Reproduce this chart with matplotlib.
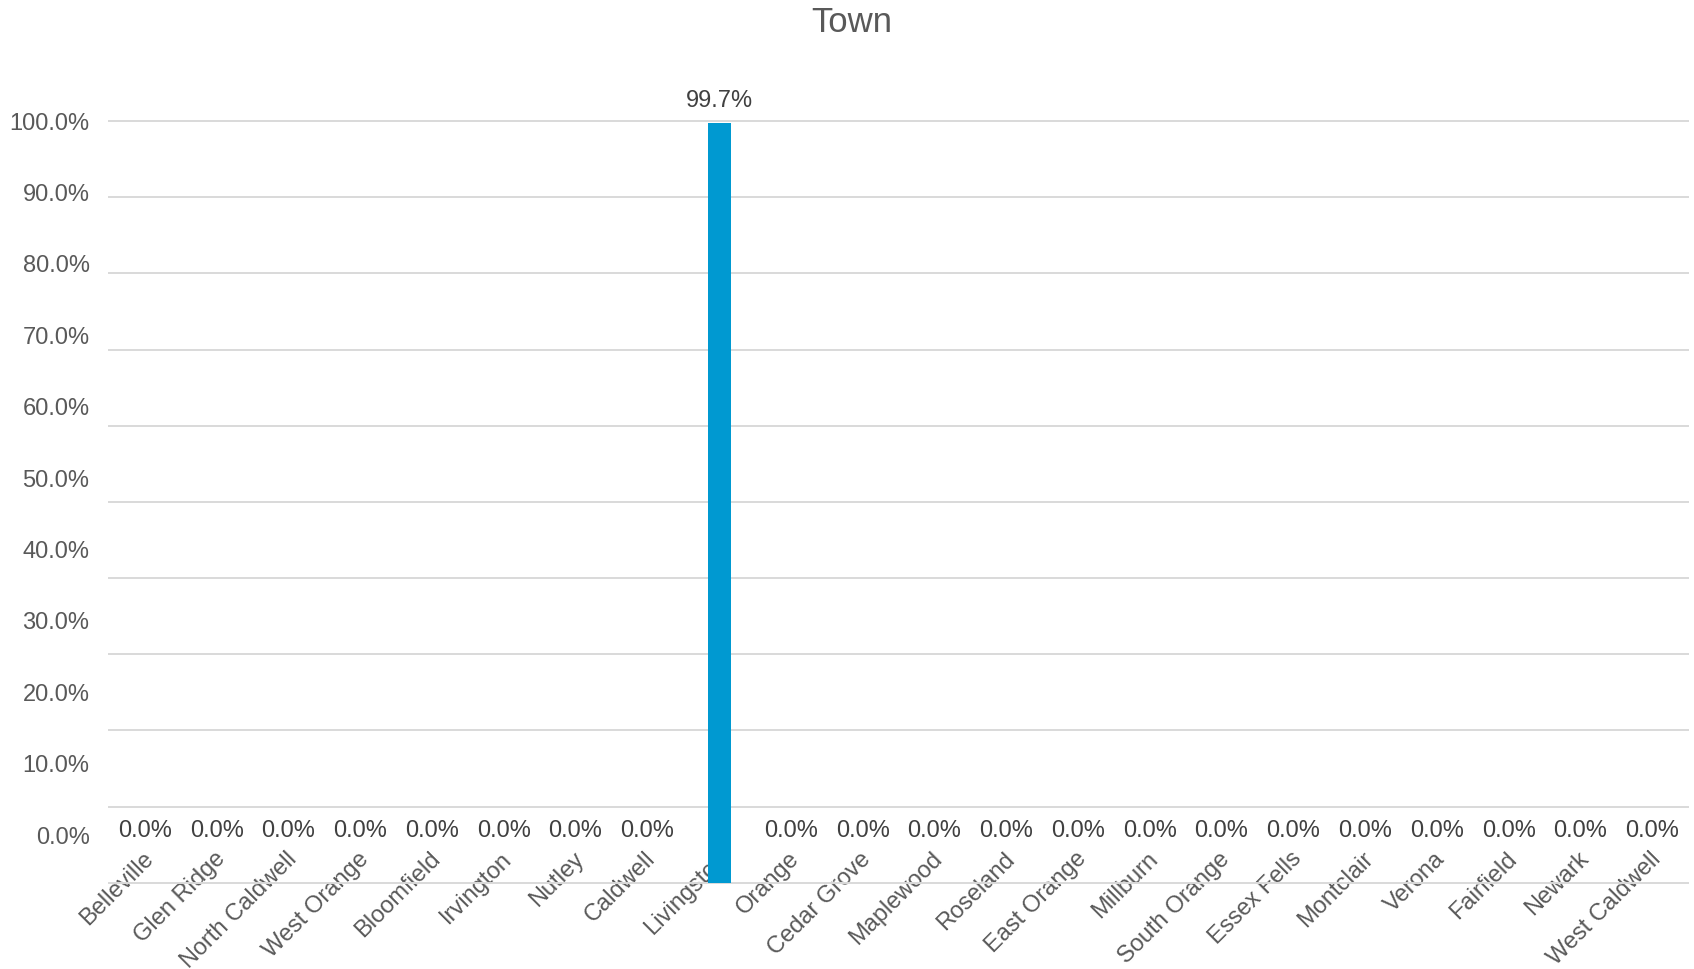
import matplotlib
matplotlib.use("Agg")
import matplotlib.pyplot as plt
from matplotlib.transforms import ScaledTranslation

# ── data ──────────────────────────────────────────────────────────────────────
towns = ["Belleville", "Glen Ridge", "North Caldwell", "West Orange",
         "Bloomfield", "Irvington", "Nutley", "Caldwell", "Livingston",
         "Orange", "Cedar Grove", "Maplewood", "Roseland", "East Orange",
         "Millburn", "South Orange", "Essex Fells", "Montclair", "Verona",
         "Fairfield", "Newark", "West Caldwell"]
share = [0.0, 0.0, 0.0, 0.0, 0.0, 0.0, 0.0, 0.0, 0.997,
         0.0, 0.0, 0.0, 0.0, 0.0, 0.0, 0.0, 0.0, 0.0, 0.0,
         0.0, 0.0, 0.0]
y_ticks = [0.0, 0.1, 0.2, 0.3, 0.4, 0.5, 0.6, 0.7, 0.8, 0.9, 1.0]

# ── style ─────────────────────────────────────────────────────────────────────
BAR   = "#0099D1"
TXT   = "#595959"
LBL   = "#404040"
GRID  = "#D9D9D9"

plt.rcParams["font.family"] = ["Liberation Sans", "DejaVu Sans"]

W, H = 1694, 969
fig = plt.figure(figsize=(W / 100, H / 100), dpi=100)
ax = fig.add_axes([109 / W, 86.3 / H, (1688 - 109) / W, 761.7 / H])

xs = list(range(len(towns)))
bars = ax.bar(xs, share, width=0.32, color=BAR, linewidth=0, zorder=3)

ax.set_xlim(-0.5, len(towns) - 0.5)
ax.set_ylim(0, 1)

# gridlines
ax.set_yticks(y_ticks)
ax.yaxis.grid(True, color=GRID, linewidth=1.4, zorder=0)
for gl in ax.get_ygridlines():
    gl.set_clip_on(False)
ax.tick_params(axis="y", left=False, labelleft=False)
for sp in ax.spines.values():
    sp.set_visible(False)

# y labels sit on a slightly compressed scale, like the source render
def fwd(m):
    return (m - 0.0626) / 0.9374

def inv(s):
    return 0.0626 + 0.9374 * s

sec = ax.secondary_yaxis("left", functions=(fwd, inv))
sec.set_yticks(y_ticks)
sec.set_yticklabels([f"{v * 100:.1f}%" for v in y_ticks])
sec.tick_params(length=0, pad=14, labelsize=17, labelcolor=TXT)
for sp in sec.spines.values():
    sp.set_visible(False)

# category labels
ax.set_xticks(xs)
ax.set_xticklabels(towns, rotation=45, ha="right", va="center",
                   rotation_mode="anchor", fontsize=17, color=TXT)
ax.tick_params(axis="x", length=0, pad=0)
shift = ScaledTranslation(5 / 100, 27 / 100, fig.dpi_scale_trans)
for lab in ax.get_xticklabels():
    lab.set_transform(lab.get_transform() + shift)

# value labels
for x, v in zip(xs, share):
    off = 15.8 if v > 0 else 37.3
    ax.annotate(f"{v * 100:.1f}%", xy=(x, v), xytext=(0, off),
                textcoords="offset points", ha="center", va="center",
                fontsize=17, color=LBL, annotation_clip=False)

fig.suptitle("Town", x=852 / W, y=1 - 23 / H, va="center",
             fontsize=25, color=TXT)

fig.savefig("out.png", dpi=100, facecolor="white")
